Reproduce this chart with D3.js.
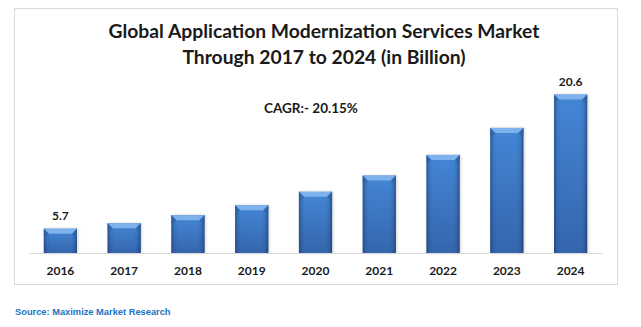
<!DOCTYPE html>
<html>
<head>
<meta charset="utf-8">
<script src="https://cdn.jsdelivr.net/npm/d3@7"></script>
<style>
  body { margin: 0; background: #fff; }
  svg { display: block; }
</style>
</head>
<body>
<svg id="chart"></svg>
<script>
// Market size by year, billions
const years = ['2016', '2017', '2018', '2019', '2020', '2021', '2022', '2023', '2024'];
const values = [5.7, 6.3, 7.2, 8.3, 9.8, 11.6, 13.9, 16.9, 20.6];
// only the first and last bars carry a value label
const labelledYears = ['2016', '2024'];
const titleLines = ['Global Application Modernization Services Market', 'Through 2017 to 2024 (in Billion)'];
const cagrText = 'CAGR:- 20.15%';
const sourceText = 'Source: Maximize Market Research';

const W = 641, H = 327;
const plot = { left: 28.5, right: 602.5, top: 82, bottom: 253 };

const svg = d3.select('#chart').attr('width', W).attr('height', H);
const defs = svg.append('defs');

// face: slightly darker toward the bottom
const face = defs.append('linearGradient').attr('id', 'face')
    .attr('x1', 0).attr('y1', 0).attr('x2', 0).attr('y2', 1);
face.append('stop').attr('offset', '0%').attr('stop-color', '#4486d6');
face.append('stop').attr('offset', '100%').attr('stop-color', '#3566ac');

// darker bevelled sides
const sides = defs.append('linearGradient').attr('id', 'sides')
    .attr('x1', 0).attr('y1', 0).attr('x2', 1).attr('y2', 0);
[[0, 0.55], [0.09, 0.12], [0.2, 0], [0.8, 0], [0.91, 0.15], [1, 0.6]].forEach(([o, a]) => {
    sides.append('stop').attr('offset', o).attr('stop-color', '#13315e').attr('stop-opacity', a);
});

const shadow = defs.append('filter').attr('id', 'shadow')
    .attr('x', '-30%').attr('y', '-10%').attr('width', '160%').attr('height', '120%');
shadow.append('feGaussianBlur').attr('stdDeviation', 1.5);

// outer frame
svg.append('rect')
    .attr('x', 14.5).attr('y', 8.5).attr('width', 603).attr('height', 276)
    .attr('fill', '#fff').attr('stroke', '#d9d9d9').attr('stroke-width', 1);

// title
svg.append('g').selectAll('text')
    .data(titleLines)
    .join('text')
    .attr('x', 324)
    .attr('y', (d, i) => 38 + i * 26)
    .attr('text-anchor', 'middle')
    .attr('font-family', 'Lato, "Open Sans", sans-serif')
    .attr('font-weight', 700)
    .attr('font-size', 19.3)
    .attr('fill', '#1a1a1a')
    .text(d => d);

const x = d3.scaleBand()
    .domain(years)
    .range([plot.left, plot.right])
    .paddingInner(0.48)
    .paddingOuter(0.24);

const y = d3.scaleLinear()
    .domain([3, 22])
    .range([plot.bottom, plot.top]);

const bw = x.bandwidth();
const bars = svg.append('g').selectAll('g')
    .data(years.map((yr, i) => ({ yr, v: values[i] })))
    .join('g');

bars.append('rect')
    .attr('x', d => x(d.yr) + 1)
    .attr('y', d => y(d.v))
    .attr('width', bw)
    .attr('height', d => plot.bottom - y(d.v))
    .attr('fill', '#000').attr('opacity', 0.18)
    .attr('filter', 'url(#shadow)');

bars.append('rect')
    .attr('x', d => x(d.yr))
    .attr('y', d => y(d.v))
    .attr('width', bw)
    .attr('height', d => plot.bottom - y(d.v))
    .attr('fill', 'url(#face)');

bars.append('rect')
    .attr('x', d => x(d.yr))
    .attr('y', d => y(d.v))
    .attr('width', bw)
    .attr('height', d => plot.bottom - y(d.v))
    .attr('fill', 'url(#sides)');

// light top bevel
bars.append('path')
    .attr('d', d => {
        const x0 = x(d.yr), x1 = x0 + bw, t = y(d.v), b = 5;
        return `M${x0},${t}L${x1},${t}L${x1 - b},${t + b}L${x0 + b},${t + b}Z`;
    })
    .attr('fill', '#7db2ec');
bars.append('path')
    .attr('d', d => {
        const x0 = x(d.yr), x1 = x0 + bw, t = y(d.v), b = 5;
        return `M${x0},${t}L${x0 + b},${t + b}L${x0 + 2},${t + b + 3}L${x0},${t + b + 3}Z` +
               `M${x1},${t}L${x1 - b},${t + b}L${x1 - 2},${t + b + 3}L${x1},${t + b + 3}Z`;
    })
    .attr('fill', '#2f5f9f').attr('opacity', 0.6);

// value labels
bars.filter(d => labelledYears.includes(d.yr))
    .append('text')
    .attr('x', d => x(d.yr) + bw / 2)
    .attr('y', d => y(d.v) - 9)
    .attr('text-anchor', 'middle')
    .attr('font-family', 'Lato, "Open Sans", sans-serif')
    .attr('font-weight', 700)
    .attr('font-size', 12)
    .attr('fill', '#1a1a1a')
    .text(d => d.v);

// category axis
const axis = svg.append('g')
    .attr('transform', `translate(0,${plot.bottom})`)
    .call(d3.axisBottom(x).tickSize(0).tickPadding(13));
axis.select('.domain').attr('stroke', '#d9d9d9').attr('stroke-width', 1.2);
axis.selectAll('text')
    .attr('font-family', 'Lato, "Open Sans", sans-serif')
    .attr('font-weight', 700)
    .attr('font-size', 12)
    .attr('fill', '#1a1a1a');

svg.append('text')
    .attr('x', 311).attr('y', 113)
    .attr('text-anchor', 'middle')
    .attr('font-family', 'Lato, "Open Sans", sans-serif')
    .attr('font-weight', 700)
    .attr('font-size', 13.5)
    .attr('fill', '#1a1a1a')
    .text(cagrText);

svg.append('text')
    .attr('x', 15).attr('y', 315)
    .attr('font-family', '"Liberation Sans", Arial, sans-serif')
    .attr('font-weight', 700)
    .attr('font-size', 9.3)
    .attr('fill', '#1a73c4')
    .text(sourceText);
</script>
</body>
</html>
